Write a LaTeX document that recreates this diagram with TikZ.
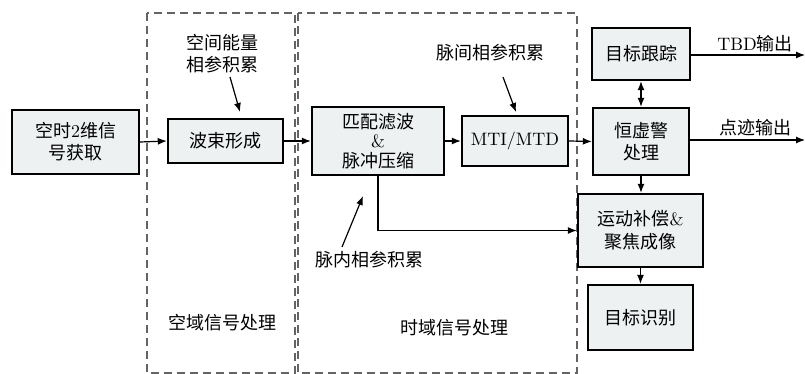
\documentclass[tikz,border=0pt]{standalone}
\usepackage{fontspec}
\setmainfont{lmroman10-regular.otf}
\newfontfamily\zh{Noto Sans CJK SC}
\usetikzlibrary{arrows.meta}
\begin{document}
\begin{tikzpicture}[x=1pt,y=-1pt,
  blk/.style={draw=black,line width=2.4pt,fill={rgb,255:red,238;green,241;blue,242},
    inner sep=0pt,align=center,font=\fontsize{18}{22}\selectfont},
  lbl/.style={inner sep=0pt,align=center,font=\fontsize{18}{22}\selectfont},
  conn/.style={line width=1.2pt,-{Latex[length=9pt,width=7pt]}},
  dconn/.style={line width=1.2pt,{Latex[length=9pt,width=7pt]}-{Latex[length=9pt,width=7pt]}},
  region/.style={draw={rgb,255:red,100;green,100;blue,100},line width=1.5pt,dash pattern=on 8pt off 5pt}]
\useasboundingbox (0,0) rectangle (805,374);
\draw[region] (147,13) rectangle (295,373);
\draw[region] (298,13) rectangle (577,373);

\node[blk,minimum width=127pt,minimum height=64pt] (in) at (75.5,142) {{\zh 空时}2{\zh 维信}\\{\zh 号获取}};
\node[blk,minimum width=115pt,minimum height=44pt] (bf) at (225.5,141) {\zh 波束形成};
\node[blk,minimum width=132pt,minimum height=68pt,font=\fontsize{18}{19.5}\selectfont] (mf) at (378,141) {{\zh 匹配滤波}\\\&\\{\zh 脉冲压缩}};
\node[blk,minimum width=106pt,minimum height=50pt] (mti) at (515,141) {MTI/MTD};
\node[blk,minimum width=98pt,minimum height=52pt] (trk) at (641,54) {\zh 目标跟踪};
\node[blk,minimum width=96pt,minimum height=67pt] (cfar) at (641,141.5) {{\zh 恒虚警}\\{\zh 处理}};
\node[blk,minimum width=125pt,minimum height=73pt,font=\fontsize{18}{23}\selectfont] (mc) at (640.5,230.5) {{\zh 运动补偿}\&\\{\zh 聚焦成像}};
\node[blk,minimum width=105pt,minimum height=65pt] (rec) at (640.5,317.5) {\zh 目标识别};

\node[lbl] (l1) at (222,54) {{\zh 空间能量}\\{\zh 相参积累}};
\node[lbl] (l2) at (490,53) {\zh 脉间相参积累};
\node[lbl] (l3) at (369,260) {\zh 脉内相参积累};
\node[lbl] (l4) at (755,44) {TBD{\zh 输出}};
\node[lbl] (l5) at (755,128) {\zh 点迹输出};
\node[lbl] (l6) at (222,323) {\zh 空域信号处理};
\node[lbl] (l7) at (454,328) {\zh 时域信号处理};

\coordinate (o1) at (805,55);
\coordinate (o2) at (805,140);
\coordinate (a1s) at (230,77);
\coordinate (a1e) at (240,112);
\coordinate (a2s) at (503,77);
\coordinate (a2e) at (516,112);
\coordinate (a3s) at (342,247);
\coordinate (a3e) at (363,196);

\draw[conn] (in.east) -- (bf.west);
\draw[conn] (bf.east) -- (mf.west);
\draw[conn] (mf.east) -- (mti.west);
\draw[conn] (mti.east) -- (cfar.west);
\draw[dconn] (trk.south) -- (cfar.north);
\draw[conn] (cfar.south) -- (cfar.south |- mc.north);
\draw[conn] (mc.south) -- (rec.north);
\draw[conn] (mf.south) |- (mc.west);
\draw[conn] (trk.east |- o1) -- (o1);
\draw[conn] (cfar.east |- o2) -- (o2);
\draw[conn] (a1s) -- (a1e);
\draw[conn] (a2s) -- (a2e);
\draw[conn] (a3s) -- (a3e);
\end{tikzpicture}
\end{document}
